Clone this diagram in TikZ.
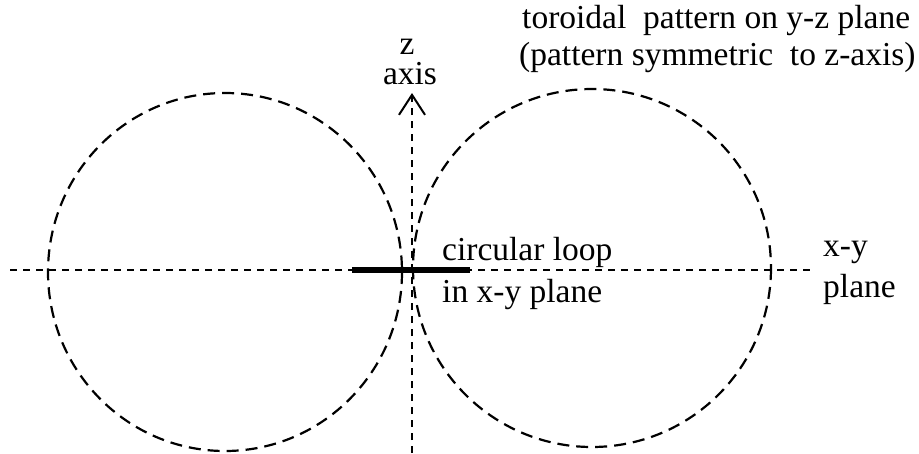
\documentclass[tikz,border=0pt]{standalone}
\usepackage{fontspec}
\setmainfont{Liberation Serif}
\usetikzlibrary{arrows.meta}
\tikzset{
  circdash/.style={line width=2.2pt, dash pattern=on 12pt off 7pt},
  axisdash/.style={line width=2pt, dash pattern=on 7pt off 6pt},
  loopbar/.style={line width=5.5pt},
  lbl/.style={inner sep=0pt, anchor=base west, font=\fontsize{33.5}{37}\selectfont},
  lblz/.style={inner sep=0pt, anchor=south, align=center, font=\fontsize{33.5}{30}\selectfont}
}
\begin{document}
\begin{tikzpicture}[x=1pt,y=-1pt]
\useasboundingbox (0,0) rectangle (919,453);
% field pattern circles
\draw[circdash] (225,272) ellipse [x radius=177, y radius=179];
\draw[circdash] (592,268) ellipse [x radius=179, y radius=179];
% axes
\coordinate (xl) at (10,270);
\coordinate (xr) at (812,270);
\draw[axisdash] (xl) -- (xr);
\coordinate (zb) at (412,453);
\coordinate (zt) at (412,93);
\draw[axisdash,-{Straight Barb[length=20pt,width=26pt,line width=2pt]}] (zb) -- (zt);
% loop
\coordinate (la) at (352,270);
\coordinate (lb) at (470,270);
\draw[loopbar] (la) -- (lb);
% labels
\node[lblz] (z) at (410,85) {\hspace*{-6pt}z\\axis};
\node[lbl] (t1) at (522,28) {toroidal\ \ pattern on y-z plane};
\node[lbl] (t2) at (519,65) {(pattern symmetric\ \ to z-axis)};
\node[lbl] (c1) at (442,260) {circular loop};
\node[lbl] (c2) at (442,302) {in x-y plane};
\node[lbl] (p1) at (823,256) {x-y};
\node[lbl] (p2) at (823,297) {plane};
\end{tikzpicture}
\end{document}
